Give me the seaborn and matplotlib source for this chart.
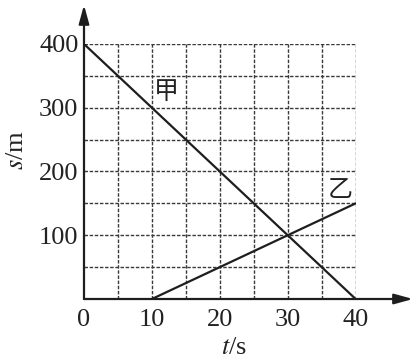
import matplotlib
matplotlib.use("Agg")
import matplotlib.pyplot as plt
import seaborn as sns
import pandas as pd

# data
t_jia = [0, 40]
s_jia = [400, 0]
t_yi = [10, 40]
s_yi = [0, 150]
x_ticks = [0, 10, 20, 30, 40]
y_ticks = [100, 200, 300, 400]
x_grid = [5, 10, 15, 20, 25, 30, 35, 40]
y_grid = [50, 100, 150, 200, 250, 300, 350, 400]

sns.set_theme(style="white")
plt.rcParams['font.family'] = ['Liberation Serif', 'Noto Sans CJK SC', 'DejaVu Sans']

fig = plt.figure(figsize=(4.15, 3.63), dpi=100)
ax = fig.add_axes([0.2024, 0.1763, 0.857 - 0.2024, 0.8788 - 0.1763])

df = pd.concat([
    pd.DataFrame({"t": t_jia, "s": s_jia, "line": "甲"}),
    pd.DataFrame({"t": t_yi, "s": s_yi, "line": "乙"}),
])
sns.lineplot(data=df, x="t", y="s", units="line", estimator=None,
             color="#1e1e1e", linewidth=1.6, ax=ax, legend=False)

for g in x_grid:
    ax.axvline(g, color="#3a3a3a", linewidth=1.0, linestyle=(0, (2.5, 1.2)), zorder=0)
for g in y_grid:
    ax.axhline(g, color="#3a3a3a", linewidth=1.0, linestyle=(0, (2.5, 1.2)), zorder=0)

ax.set_xlim(0, 40)
ax.set_ylim(0, 400)
for sp in ax.spines.values():
    sp.set_visible(False)

ax.set_xticks(x_ticks)
ax.set_yticks(y_ticks)
ax.tick_params(length=0, labelsize=19, colors="#222222")
ax.tick_params(axis="x", pad=7)
ax.tick_params(axis="y", pad=4)
ax.set_xlabel("")
ax.set_ylabel("")

# axes with arrows
arrow = dict(arrowstyle="-|>,head_length=0.8,head_width=0.22", color="#1e1e1e",
             lw=1.6, mutation_scale=14, shrinkA=0, shrinkB=0)
ax.annotate("", xy=(1.211, 0), xytext=(0, 0), xycoords="axes fraction",
            arrowprops=arrow, annotation_clip=False)
ax.annotate("", xy=(0, 1.153), xytext=(0, 0), xycoords="axes fraction",
            arrowprops=arrow, annotation_clip=False)

fig.text(0.564, 0.04, r"$t$/s", fontsize=19, ha="center", va="center",
         color="#222222", math_fontfamily="stix")
fig.text(0.041, 0.587, r"$s$/m", fontsize=19, ha="center", va="center",
         rotation=90, color="#222222", math_fontfamily="stix")

ax.text(12.2, 325, "甲", fontsize=18, ha="center", va="center",
        color="#222222", family=['Noto Sans CJK SC', 'DejaVu Sans'])
ax.text(37.7, 171, "乙", fontsize=18, ha="center", va="center",
        color="#222222", family=['Noto Sans CJK SC', 'DejaVu Sans'])

fig.savefig("out.png", dpi=100, facecolor="white")
